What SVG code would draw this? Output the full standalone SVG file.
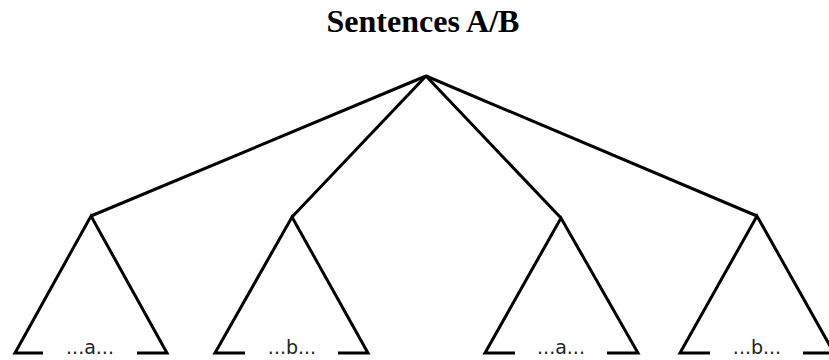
<svg xmlns="http://www.w3.org/2000/svg" width="829" height="360" viewBox="0 0 829 360">
<style>
.e{stroke:#000;stroke-width:3;fill:none;stroke-linecap:butt;stroke-linejoin:miter}
.t{font-family:"DejaVu Sans",sans-serif;font-size:19px;fill:#222;text-anchor:middle}
.title{font-family:"Liberation Serif","Times New Roman",serif;font-size:32px;font-weight:bold;text-anchor:middle}
</style>
<rect width="829" height="360" fill="#fff"/>
<text class="title" x="423" y="32">Sentences A/B</text>
<g id="connectors">
<path class="e" d="M426,76 L91,216"/>
<path class="e" d="M426,76 L292,217"/>
<path class="e" d="M426,76 L561,218"/>
<path class="e" d="M426,76 L757,216"/>
</g>
<g id="root"><circle cx="426" cy="76" r="1.5" fill="#000"/></g>
<g id="tri1">
<path class="e" d="M43,353 L15,353 L91,216 L167,353 L137,353"/>
<text class="t" x="90" y="354">...a...</text>
</g>
<g id="tri2">
<path class="e" d="M245,353 L215,353 L292,217 L368,353 L338,353"/>
<text class="t" x="292" y="354">...b...</text>
</g>
<g id="tri3">
<path class="e" d="M515,353 L485,353 L561,218 L638,353 L607,353"/>
<text class="t" x="561" y="354">...a...</text>
</g>
<g id="tri4">
<path class="e" d="M710,353 L680,353 L757,216 L834,353 L803,353"/>
<text class="t" x="757" y="354">...b...</text>
</g>
</svg>
